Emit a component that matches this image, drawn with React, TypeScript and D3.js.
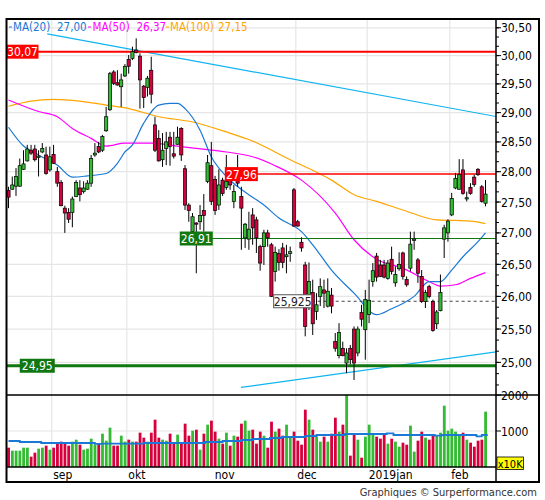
import * as d3 from "d3";

// daily candles, aug 2018 -> feb 2019 (prices in EUR)
const OPEN = [
  27.69, 27.71, 27.76, 27.76, 28.04, 28.18, 28.36, 28.38, 28.24, 28.33, 28.28, 28.03, 28.29, 28.0, 27.82, 27.4,
  27.33, 27.33, 27.59, 27.73, 27.67, 27.71, 27.81, 28.28, 28.42, 28.36, 28.69, 29.05, 29.71, 29.52, 29.45, 29.64,
  29.93, 29.95, 30.1, 29.99, 29.46, 29.44, 29.74, 28.79, 28.56, 28.2, 28.39, 28.58, 28.3, 28.46, 28.73, 28.05,
  27.45, 27.02, 27.16, 27.18, 27.36, 27.84, 28.1, 27.87, 27.45, 27.86, 27.74, 27.86, 27.51, 27.95, 27.59, 26.92,
  26.9, 27.29, 27.21, 26.78, 26.78, 27.0, 26.81, 26.39, 26.67, 26.76, 26.62, 26.67, 27.7, 27.18, 26.85, 26.49,
  25.92, 26.06, 25.77, 26.0, 26.1, 25.85, 26.02, 25.31, 25.1, 25.21, 24.99, 25.21, 25.5, 25.14, 25.75, 25.49,
  25.72, 26.23, 26.63, 26.49, 26.49, 26.28, 26.58, 26.21, 26.43, 26.68, 26.26, 26.44, 26.88, 26.57, 26.31, 25.92,
  26.15, 25.92, 25.58, 25.78, 26.9, 27.0, 27.29, 27.73, 27.71, 28.03, 27.55, 27.74, 27.91, 28.04, 27.75, 27.48,
];
const HIGH = [
  27.75, 27.92, 28.06, 28.22, 28.36, 28.45, 28.45, 28.45, 28.36, 28.48, 28.42, 28.42, 28.45, 28.08, 27.86, 27.44,
  27.4, 27.59, 27.86, 27.86, 27.84, 27.86, 28.28, 28.48, 28.5, 28.62, 29.1, 29.71, 29.74, 29.74, 29.68, 29.85,
  30.01, 30.16, 30.31, 30.04, 29.48, 29.64, 29.98, 28.93, 28.7, 28.65, 28.67, 28.67, 28.67, 28.76, 28.75, 28.11,
  27.48, 27.32, 27.17, 27.45, 27.63, 28.28, 28.5, 27.93, 28.04, 27.9, 28.28, 27.95, 27.78, 28.28, 27.75, 27.16,
  27.34, 27.4, 27.26, 26.81, 27.05, 27.05, 26.84, 26.78, 26.74, 26.84, 26.81, 26.78, 27.73, 27.21, 26.93, 26.54,
  26.53, 26.26, 26.05, 26.28, 26.26, 26.28, 26.13, 25.44, 25.59, 25.31, 25.21, 25.26, 25.54, 25.54, 25.87, 26.1,
  26.26, 26.52, 26.68, 26.57, 26.57, 26.57, 26.78, 26.47, 26.69, 26.7, 26.31, 27.02, 27.02, 26.6, 26.41, 26.1,
  26.18, 25.95, 25.79, 26.34, 27.13, 27.22, 27.65, 27.98, 28.21, 28.21, 27.67, 27.81, 27.95, 28.06, 27.78, 27.86,
];
const LOW = [
  27.4, 27.7, 27.6, 27.75, 28.03, 28.17, 28.28, 28.17, 27.92, 28.31, 27.95, 28.0, 28.13, 27.75, 27.43, 27.0,
  27.16, 27.09, 27.58, 27.51, 27.64, 27.7, 27.75, 28.25, 28.31, 28.33, 28.67, 29.03, 29.48, 29.47, 29.1, 29.62,
  29.68, 29.92, 30.04, 29.07, 29.08, 29.28, 29.16, 28.33, 28.17, 28.08, 28.11, 28.1, 28.22, 28.45, 28.18, 27.37,
  27.18, 27.0, 26.36, 27.05, 27.02, 27.81, 27.45, 27.29, 27.37, 27.6, 27.7, 27.7, 27.4, 27.75, 26.73, 26.76,
  26.73, 26.81, 26.68, 26.4, 26.49, 26.78, 25.99, 26.23, 26.4, 26.44, 26.36, 26.54, 27.1, 27.1, 26.7, 25.39,
  25.79, 25.41, 25.64, 25.85, 25.82, 25.83, 25.74, 25.16, 25.06, 25.09, 24.84, 24.97, 24.74, 25.09, 25.54, 25.04,
  25.59, 26.15, 26.23, 26.3, 26.28, 26.26, 26.34, 26.15, 26.4, 26.26, 26.15, 26.39, 26.73, 26.21, 25.9, 25.82,
  25.97, 25.46, 25.5, 25.77, 26.6, 26.86, 27.27, 27.71, 27.7, 27.62, 27.51, 27.62, 27.75, 27.93, 27.49, 27.43,
];
const CLOSE = [
  27.58, 27.78, 27.92, 28.1, 28.13, 28.38, 28.31, 28.2, 28.26, 28.39, 27.97, 28.25, 28.14, 27.81, 27.44, 27.32,
  27.22, 27.55, 27.82, 27.62, 27.73, 27.81, 28.22, 28.31, 28.33, 28.59, 28.93, 29.68, 29.51, 29.48, 29.57, 29.81,
  29.81, 30.07, 30.06, 29.57, 29.26, 29.6, 29.32, 28.36, 28.18, 28.36, 28.5, 28.42, 28.26, 28.58, 28.28, 27.45,
  27.36, 27.26, 27.14, 27.28, 27.28, 28.15, 27.51, 27.36, 27.78, 27.64, 27.84, 27.78, 27.67, 27.81, 27.4, 27.14,
  27.06, 27.08, 26.92, 26.52, 27.0, 26.92, 26.0, 26.69, 26.53, 26.53, 26.65, 26.7, 27.11, 27.11, 26.76, 25.54,
  26.23, 25.58, 25.87, 26.15, 26.05, 26.08, 25.85, 25.21, 25.45, 25.1, 25.14, 25.04, 24.99, 25.5, 25.65, 25.95,
  25.94, 26.4, 26.3, 26.31, 26.3, 26.52, 26.39, 26.34, 26.5, 26.31, 26.18, 26.82, 26.9, 26.36, 25.92, 26.06,
  26.0, 25.48, 25.76, 26.06, 27.08, 27.19, 27.56, 27.89, 27.95, 27.64, 27.57, 27.64, 27.79, 27.95, 27.51, 27.63,
];
// volume, x10K shares
const VOLUME = [
  537, 454, 454, 454, 537, 537, 287, 398, 509, 537, 593, 481, 537, 648, 704, 676,
  593, 704, 759, 620, 481, 509, 787, 620, 648, 926, 731, 1093, 593, 593, 870, 704,
  759, 704, 704, 954, 815, 704, 954, 1315, 815, 759, 731, 926, 667, 898, 667, 1204,
  870, 1009, 1037, 481, 926, 1176, 1287, 982, 787, 648, 954, 593, 870, 843, 1204, 1287,
  1009, 1037, 648, 982, 870, 537, 1259, 982, 1065, 870, 1176, 843, 982, 731, 620, 1593,
  1315, 1037, 843, 704, 843, 704, 926, 1370, 982, 1176, 2010, 315, 898, 759, 259, 843,
  1176, 898, 843, 787, 926, 648, 787, 704, 565, 676, 620, 1148, 426, 731, 982, 815,
  759, 898, 870, 954, 1704, 1009, 1065, 982, 898, 954, 759, 676, 565, 731, 759, 1537,
];

// moving averages, read as [candle index, value]
const MA20 = [
  [0, 28.75], [4, 28.43], [8, 28.28], [13, 28.11], [17, 27.91], [21, 27.93], [26, 27.97], [29, 28.14],
  [31, 28.33], [33, 28.45], [36, 28.82], [40, 29.13], [43, 29.16], [45, 29.16], [47, 29.07], [51, 28.7],
  [54, 28.25], [58, 27.92], [64, 27.62], [68, 27.45], [72, 27.24], [78, 27.02], [81, 26.81], [86, 26.41],
  [92, 26.05], [98, 25.72], [102, 25.81], [105, 25.89], [108, 26.0], [112, 26.23], [115, 26.23], [118, 26.41],
  [121, 26.62], [125, 26.86], [127, 27.0],
];
const MA50 = [
  [0, 29.22], [8, 29.02], [13, 28.93], [17, 28.73], [22, 28.56], [26, 28.43], [31, 28.48], [38, 28.48],
  [46, 28.42], [53, 28.37], [58, 28.33], [65, 28.25], [71, 28.1], [78, 27.86], [87, 27.32], [92, 26.89],
  [98, 26.58], [105, 26.44], [112, 26.23], [115, 26.16], [119, 26.18], [123, 26.28], [127, 26.37],
];
const MA100 = [
  [0, 29.11], [6, 29.2], [12, 29.23], [19, 29.2], [26, 29.13], [32, 29.07], [40, 28.93], [49, 28.84],
  [58, 28.67], [64, 28.54], [75, 28.2], [86, 27.86], [92, 27.62], [98, 27.51], [105, 27.37], [114, 27.21],
  [119, 27.2], [123, 27.19], [127, 27.15],
];
// volume average (step line), [index where the step starts, value]
const VOL_AVG = [
  [0, 722], [3, 694], [8.7, 667], [23, 640], [25, 650], [36, 667], [52.3, 694], [57, 722], [62, 750],
  [65, 778], [69.6, 806], [72.7, 833], [79, 861], [82, 889], [89.6, 917], [100.7, 935], [102.5, 889],
  [113.5, 870], [115.3, 889], [124.6, 852], [126, 889], [127.6, 889],
];
// trend lines, [index, price] end points
const TREND_HIGH = [[10.3, 30.39], [130.1, 28.93]];
const TREND_LOW = [[61.9, 24.63], [130.1, 25.16]];

const MONTH_START = [12, 32, 55, 77, 96, 118];
const MONTH_LABELS = ["sep", "okt", "nov", "dec", "2019jan", "feb"];
const PRICE_TICKS = [25, 25.5, 26, 26.5, 27, 27.5, 28, 28.5, 29, 29.5, 30, 30.5];
const VOL_TICKS = [1000, 2000];

const MA_LAST = [27.0, 26.37, 27.15];

const W = 545;
const H = 500;
const L = 6.5;
const R = 496;
const TOP = 19;
const MID = 395;
const VBOT = 467;
const BOT = 482;
const FR = 539;

const FONT = "'DejaVu Sans Condensed', 'DejaVu Sans', Verdana, sans-serif";
const UP = "#33bb33";
const DOWN = "#d6003c";
const GRID = "#e6e6e6";
const C_MA20 = "#1a78d6";
const C_MA50 = "#ff00ff";
const C_MA100 = "#ffa500";
const C_TREND = "#10b4f0";

const fmt = (v: number, d = 2) => d3.format(`.${d}f`)(v).replace(".", ",");

export default function App() {
  const n = OPEN.length;
  const x = d3.scaleLinear().domain([0, n - 1]).range([8.5, 485.5]);
  const y = d3.scaleLog().domain([24.52, 30.66]).range([MID, TOP]);
  const yv = d3.scaleLinear().domain([0, 2000]).range([VBOT, MID]);

  const maLine = d3
    .line<number[]>()
    .x((d) => x(d[0]))
    .y((d) => y(d[1]))
    .curve(d3.curveMonotoneX);
  const volLine = d3
    .line<number[]>()
    .x((d) => x(d[0]))
    .y((d) => yv(d[1]))
    .curve(d3.curveStepAfter);
  const straight = d3
    .line<number[]>()
    .x((d) => x(d[0]))
    .y((d) => y(d[1]));

  // minor ticks at thirds between the labelled prices
  const minor: number[] = [];
  for (let k = 0; k <= 40; k++) {
    const v = 24.5 + k / 6;
    if (v > 24.52 && v < 30.66) minor.push(v);
  }

  const monthX = MONTH_START.map((s) => x(s - 0.5));
  const lvl = (v: number) => y(v);

  // annotation anchors (candle index where each level label starts)
  const x2796 = x(57.6);
  const x2691 = x(45.6);
  const x25925 = x(70.6);
  const x2495 = x(3);

  return (
    <svg
      width={W}
      height={H}
      style={{ position: "absolute", left: 0, top: 0, background: "#fff" }}
      fontFamily={FONT}
    >
      <defs>
        <clipPath id="pricePanel">
          <rect x={L} y={TOP} width={R - L} height={MID - TOP} />
        </clipPath>
        <clipPath id="volPanel">
          <rect x={L} y={MID} width={R - L} height={VBOT - MID} />
        </clipPath>
      </defs>
      <rect x={0} y={0} width={W} height={H} fill="#fff" />

      {/* grid */}
      {PRICE_TICKS.map((t) => (
        <line key={`g${t}`} x1={L} x2={R} y1={y(t)} y2={y(t)} stroke={GRID} strokeWidth={1.2} />
      ))}
      {monthX.map((mx, i) => (
        <line key={`m${i}`} x1={mx} x2={mx} y1={TOP} y2={VBOT} stroke={GRID} strokeWidth={1.2} />
      ))}
      {VOL_TICKS.map((t) => (
        <line key={`vg${t}`} x1={L} x2={R} y1={yv(t)} y2={yv(t)} stroke={GRID} strokeWidth={1.2} />
      ))}

      <g clipPath="url(#pricePanel)">
        {/* trend lines */}
        <path d={straight(TREND_HIGH) || ""} fill="none" stroke={C_TREND} strokeWidth={1.2} />
        <path d={straight(TREND_LOW) || ""} fill="none" stroke={C_TREND} strokeWidth={1.2} />

        {/* moving averages */}
        <path d={maLine(MA100) || ""} fill="none" stroke={C_MA100} strokeWidth={1.2} />
        <path d={maLine(MA50) || ""} fill="none" stroke={C_MA50} strokeWidth={1.2} />
        <path d={maLine(MA20) || ""} fill="none" stroke={C_MA20} strokeWidth={1.2} />

        {/* horizontal levels */}
        <line x1={L} x2={R} y1={lvl(30.07)} y2={lvl(30.07)} stroke="#ff0000" strokeWidth={2} />
        <line x1={x2796} x2={R} y1={lvl(27.96)} y2={lvl(27.96)} stroke="#ff0000" strokeWidth={1.5} />
        <line x1={x2691} x2={R} y1={lvl(26.91)} y2={lvl(26.91)} stroke="#117711" strokeWidth={1.2} />
        <line
          x1={x25925 + 38}
          x2={R}
          y1={lvl(25.925)}
          y2={lvl(25.925)}
          stroke="#444"
          strokeWidth={1}
          strokeDasharray="3 3"
        />
        <line x1={L} x2={R} y1={lvl(24.95)} y2={lvl(24.95)} stroke="#117711" strokeWidth={3} />

        {/* candles */}
        {OPEN.map((o, i) => {
          const c = CLOSE[i];
          const cx = x(i);
          const top = y(Math.max(o, c));
          const bh = Math.max(1, y(Math.min(o, c)) - top);
          return (
            <g key={i}>
              <line x1={cx} x2={cx} y1={y(HIGH[i])} y2={y(LOW[i])} stroke="#000" strokeWidth={1} />
              <rect
                x={cx - 1.6}
                y={top}
                width={3.2}
                height={bh}
                fill={c >= o ? UP : DOWN}
                stroke="#000"
                strokeWidth={0.7}
              />
            </g>
          );
        })}

        {/* level labels */}
        <g fontSize={12}>
          <rect x={L} y={lvl(30.07) - 7} width={32} height={14} fill="#ff0000" />
          <text x={L + 16} y={lvl(30.07) + 4.5} fill="#fff" textAnchor="middle">
            {fmt(30.07)}
          </text>
          <rect x={x2796} y={lvl(27.96) - 7} width={33} height={14} fill="#ff0000" />
          <text x={x2796 + 16.5} y={lvl(27.96) + 4.5} fill="#fff" textAnchor="middle">
            {fmt(27.96)}
          </text>
          <rect x={x2691} y={lvl(26.91) - 7} width={33} height={14} fill="#117711" />
          <text x={x2691 + 16.5} y={lvl(26.91) + 4.5} fill="#fff" textAnchor="middle">
            {fmt(26.91)}
          </text>
          <rect
            x={x25925}
            y={lvl(25.925) - 6.5}
            width={38}
            height={13}
            fill="#fff"
            stroke="#555"
            strokeWidth={1}
          />
          <text x={x25925 + 19} y={lvl(25.925) + 4.5} fill="#222" textAnchor="middle">
            {fmt(25.925, 3)}
          </text>
          <rect x={x2495} y={lvl(24.95) - 7} width={35} height={14} fill="#117711" />
          <text x={x2495 + 17.5} y={lvl(24.95) + 4.5} fill="#fff" textAnchor="middle">
            {fmt(24.95)}
          </text>
        </g>
      </g>

      {/* legend */}
      <g fontSize={11.5}>
        <line x1={9} x2={12} y1={27} y2={27} stroke={C_MA20} />
        <text x={13} y={31} fill={C_MA20}>MA(20)</text>
        <text x={57} y={31} fill={C_MA20}>{fmt(MA_LAST[0])}</text>
        <line x1={88} x2={91} y1={27} y2={27} stroke={C_MA50} />
        <text x={92.5} y={31} fill={C_MA50}>MA(50)</text>
        <text x={136.5} y={31} fill={C_MA50}>{fmt(MA_LAST[1])}</text>
        <line x1={166} x2={169} y1={27} y2={27} stroke={C_MA100} />
        <text x={170} y={31} fill={C_MA100}>MA(100)</text>
        <text x={218} y={31} fill={C_MA100}>{fmt(MA_LAST[2])}</text>
      </g>

      {/* volume */}
      <g clipPath="url(#volPanel)">
        {VOLUME.map((v, i) => (
          <rect
            key={i}
            x={x(i) - 1.3}
            y={yv(v)}
            width={2.8}
            height={VBOT - yv(v)}
            fill={CLOSE[i] >= OPEN[i] ? UP : DOWN}
          />
        ))}
        <path d={volLine(VOL_AVG) || ""} fill="none" stroke={C_MA20} strokeWidth={1.8} />
      </g>

      {/* right axis */}
      {PRICE_TICKS.map((t) => (
        <g key={`t${t}`}>
          <line x1={R} x2={R + 5} y1={y(t)} y2={y(t)} stroke="#000" />
          <text x={R + 5} y={y(t) + 4.5} fontSize={12} fill="#000">
            {fmt(t)}
          </text>
        </g>
      ))}
      {minor.map((t) => (
        <line key={`mt${t}`} x1={R} x2={R + 3} y1={y(t)} y2={y(t)} stroke="#000" />
      ))}
      {VOL_TICKS.map((t) => (
        <g key={`vt${t}`}>
          <line x1={R} x2={R + 5} y1={yv(t)} y2={yv(t)} stroke="#000" />
          <text x={R + 5} y={yv(t) + 4.5} fontSize={12} fill="#000">
            {t}
          </text>
        </g>
      ))}
      <rect x={497} y={457} width={26.5} height={12.5} fill="#ffff00" stroke="#000" strokeWidth={0.8} />
      <text x={510.2} y={467.5} fontSize={11} fill="#000" textAnchor="middle">
        x10K
      </text>

      {/* month labels */}
      {MONTH_LABELS.map((m, i) => (
        <text key={m} x={monthX[i] + 1.5} y={479} fontSize={12} fill="#000">
          {m}
        </text>
      ))}

      {/* frame */}
      <rect x={L} y={TOP} width={FR - L} height={BOT - TOP} fill="none" stroke="#000" strokeWidth={2} />
      <line x1={R} x2={R} y1={TOP} y2={BOT} stroke="#000" strokeWidth={1.5} />
      <line x1={L} x2={FR} y1={MID} y2={MID} stroke="#000" strokeWidth={1.5} />
      <line x1={L} x2={R} y1={VBOT} y2={VBOT} stroke="#000" strokeWidth={1.5} />

      <text x={537} y={496} fontSize={11} fill="#333" textAnchor="end">
        Graphiques © Surperformance.com
      </text>
    </svg>
  );
}
